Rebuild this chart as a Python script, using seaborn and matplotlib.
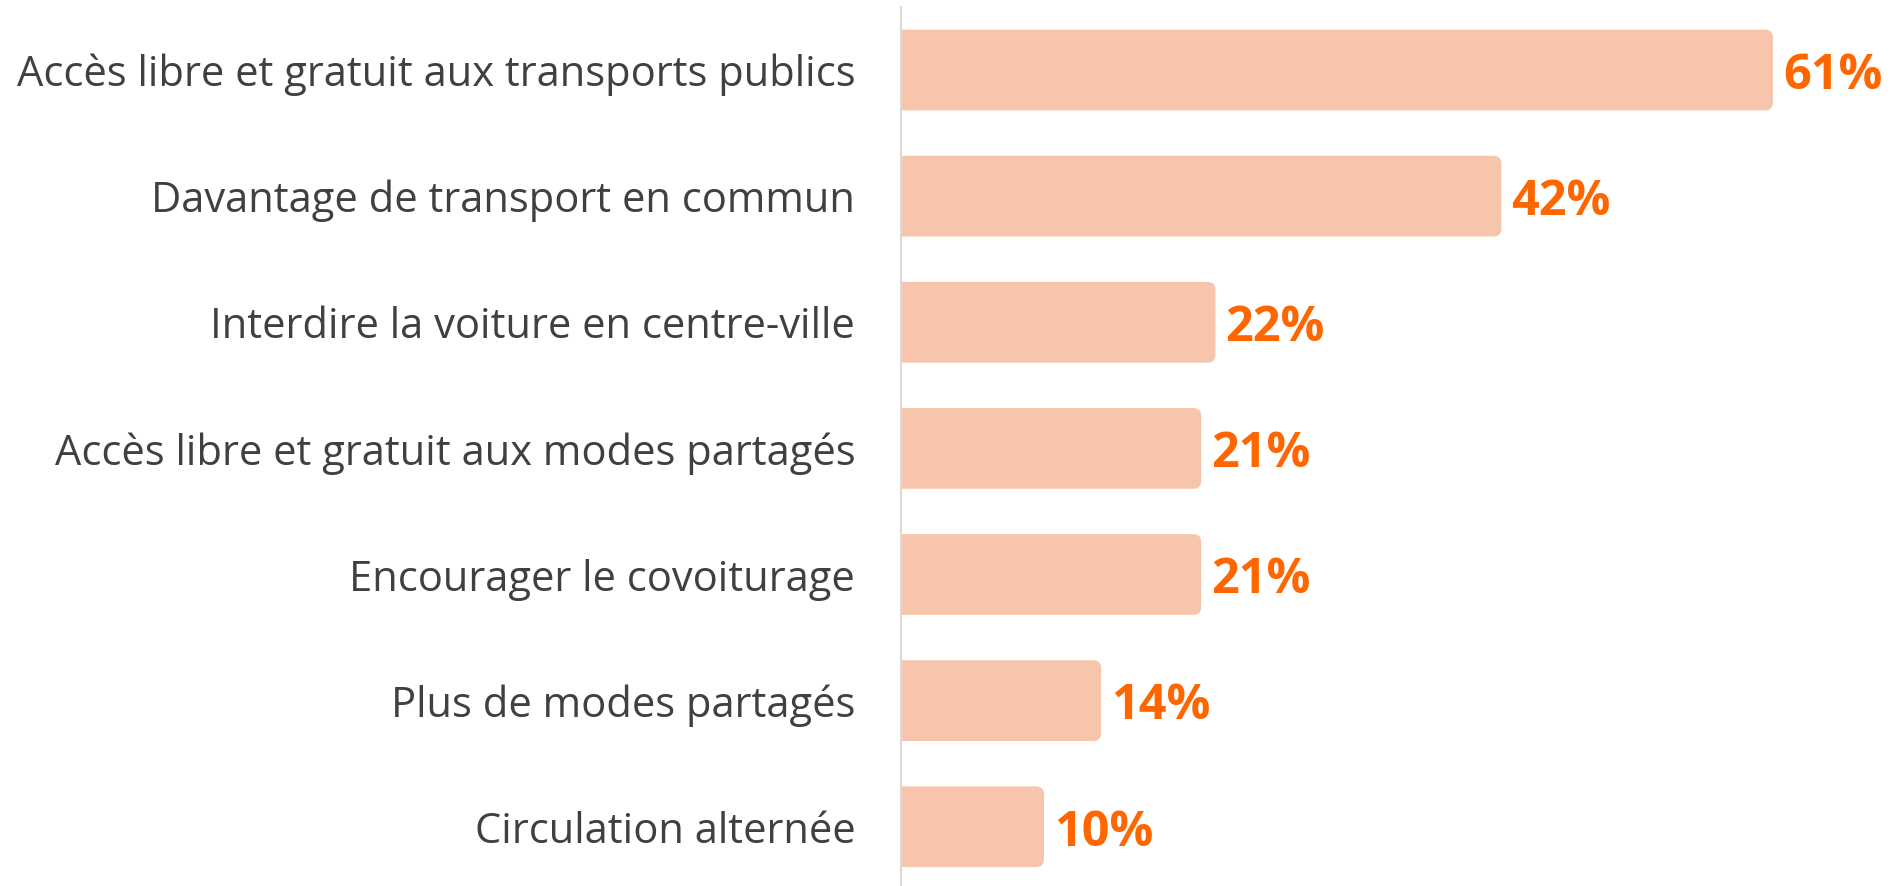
import matplotlib
matplotlib.use("Agg")
import matplotlib.pyplot as plt
import seaborn as sns
import pandas as pd
from matplotlib.patches import FancyBboxPatch

# donnees
categories = ["Accès libre et gratuit aux transports publics",
              "Davantage de transport en commun",
              "Interdire la voiture en centre-ville",
              "Accès libre et gratuit aux modes partagés",
              "Encourager le covoiturage",
              "Plus de modes partagés",
              "Circulation alternée"]
valeurs = [61, 42, 22, 21, 21, 14, 10]

df = pd.DataFrame({"mesure": categories, "pct": valeurs})

sns.set_style("white")
plt.rcParams['font.family'] = ['Open Sans', 'DejaVu Sans']

fig = plt.figure(figsize=(18.93, 8.86), dpi=100)
ax = fig.add_axes([901/1893, 0, 1 - 901/1893, (886 - 7)/886])

sns.barplot(data=df, x="pct", y="mesure", color="#F7C4AC", width=0.64,
            saturation=1, ax=ax)

ax.set_xlim(0, 69.4)
ax.set_ylim(6.47, -0.5)

# coins arrondis a droite
for p in list(ax.patches):
    x0, y0 = p.get_x(), p.get_y()
    w, h = p.get_width(), p.get_height()
    p.remove()
    r = 0.55
    box = FancyBboxPatch((x0 - 2, y0), w + 2, h,
                         boxstyle=f"round,pad=0,rounding_size={r}",
                         mutation_aspect=0.112,
                         facecolor="#F7C4AC", edgecolor="none", clip_on=True)
    ax.add_patch(box)

for i, v in enumerate(valeurs):
    ax.text(v + 0.7, i + 0.05, f"{v}%", va="center", ha="left", fontsize=35,
            fontweight="bold", color="#FF6600")

ax.set_xlabel("")
ax.set_ylabel("")
ax.set_xticks([])
ax.tick_params(axis="y", length=0, pad=33, labelsize=30, labelcolor="#404040")
for s in ["top", "right", "bottom"]:
    ax.spines[s].set_visible(False)
ax.spines["left"].set_color("#D9D9D9")
ax.spines["left"].set_linewidth(1.5)

fig.savefig("out.png", dpi=100)
